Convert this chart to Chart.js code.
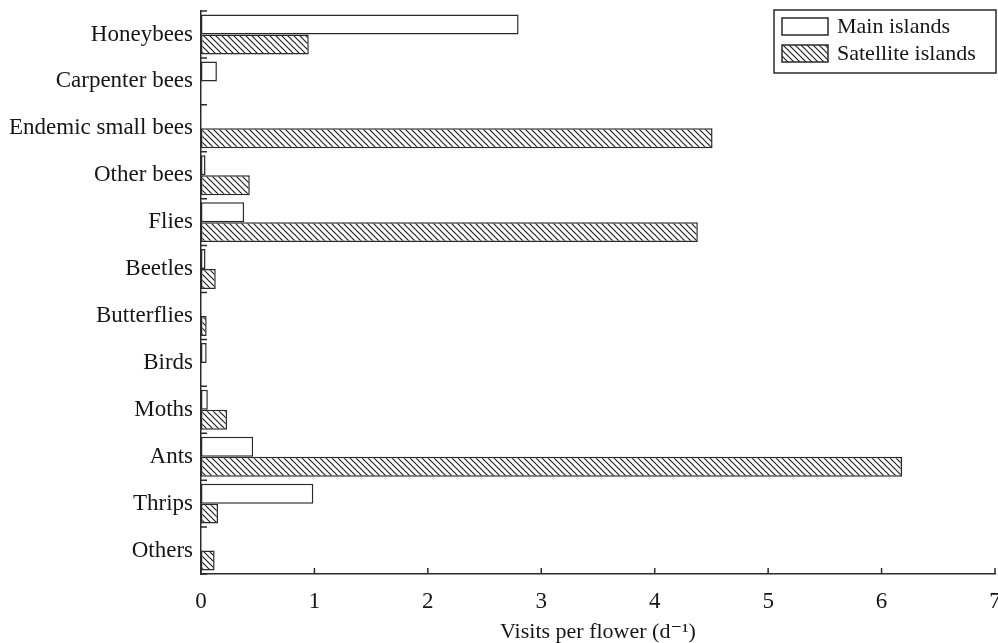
<!DOCTYPE html>
<html>
<head>
<meta charset="utf-8">
<script src="https://cdn.jsdelivr.net/npm/chart.js@4.4.1/dist/chart.umd.min.js"></script>
<style>
  body { margin: 0; background: #fff; }
</style>
</head>
<body>
<canvas id="myChart" width="998" height="643"></canvas>
<script>
// data
const categories = ["Honeybees", "Carpenter bees", "Endemic small bees", "Other bees", "Flies", "Beetles",
  "Butterflies", "Birds", "Moths", "Ants", "Thrips", "Others"];
const mainIslands = [2.80, 0.14, 0, 0.04, 0.38, 0.04, 0, 0.05, 0.06, 0.46, 0.99, 0];
const satelliteIslands = [0.95, 0, 4.51, 0.43, 4.38, 0.13, 0.05, 0, 0.23, 6.18, 0.15, 0.12];
const xTicks = [0, 1, 2, 3, 4, 5, 6, 7];
const seriesNames = ["Main islands", "Satellite islands"];

const ink = "#2a2a2a";
const textInk = "#161616";
const fontFamily = "'Liberation Serif', 'DejaVu Serif', serif";

// diagonal hatch
function makeHatch() {
  const s = 6;
  const c = document.createElement("canvas");
  c.width = s;
  c.height = s;
  const g = c.getContext("2d");
  g.fillStyle = "#fff";
  g.fillRect(0, 0, s, s);
  g.strokeStyle = "#222";
  g.lineWidth = 1.2;
  g.beginPath();
  g.moveTo(0, 0); g.lineTo(s, s);
  g.moveTo(-1, s - 1); g.lineTo(1, s + 1);
  g.moveTo(s - 1, -1); g.lineTo(s + 1, 1);
  g.stroke();
  const ctx = document.getElementById("myChart").getContext("2d");
  return ctx.createPattern(c, "repeat");
}
const hatch = makeHatch();

// ticks pointing into the plot
const innerTicks = {
  id: "innerTicks",
  afterDraw(chart) {
    const { ctx, chartArea, scales } = chart;
    ctx.save();
    ctx.strokeStyle = ink;
    ctx.lineWidth = 1.5;
    ctx.beginPath();
    xTicks.forEach((v) => {
      const px = scales.x.getPixelForValue(v);
      ctx.moveTo(px, chartArea.bottom);
      ctx.lineTo(px, chartArea.bottom - 6);
    });
    for (let i = 0; i <= categories.length; i++) {
      const py = scales.y.getPixelForValue(i - 0.5);
      ctx.moveTo(chartArea.left, py);
      ctx.lineTo(chartArea.left + 6, py);
    }
    ctx.stroke();
    ctx.restore();
  },
};

// boxed legend in the top right corner
const boxLegend = {
  id: "boxLegend",
  afterDraw(chart) {
    const { ctx, chartArea } = chart;
    const right = chartArea.right + 1;
    const left = right - 222;
    const top = chartArea.top - 1;
    ctx.save();
    ctx.strokeStyle = ink;
    ctx.lineWidth = 1.5;
    ctx.strokeRect(left, top, right - left, 63);
    ctx.font = "22px " + fontFamily;
    ctx.textBaseline = "middle";
    chart.data.datasets.forEach((ds, i) => {
      const y = top + 8 + i * 27;
      ctx.fillStyle = ds.backgroundColor;
      ctx.fillRect(left + 8, y, 46, 17);
      ctx.strokeRect(left + 8, y, 46, 17);
      ctx.fillStyle = textInk;
      ctx.fillText(ds.label, left + 63, y + 9);
    });
    ctx.restore();
  },
};

const ctx = document.getElementById("myChart").getContext("2d");
const myChart = new Chart(ctx, {
  type: "bar",
  data: {
    labels: categories,
    datasets: [
      {
        label: seriesNames[0],
        data: mainIslands,
        backgroundColor: "#ffffff",
        borderColor: ink,
        borderWidth: 1.5,
        borderSkipped: false,
      },
      {
        label: seriesNames[1],
        data: satelliteIslands,
        backgroundColor: hatch,
        borderColor: ink,
        borderWidth: 1.5,
        borderSkipped: false,
      },
    ],
  },
  options: {
    indexAxis: "y",
    responsive: false,
    animation: false,
    devicePixelRatio: 1,
    layout: { padding: { top: 11, right: 0, left: 0, bottom: 0 } },
    datasets: {
      bar: { categoryPercentage: 0.85, barPercentage: 1.0 },
    },
    plugins: {
      legend: { display: false },
      tooltip: { enabled: false },
    },
    scales: {
      x: {
        min: 0,
        max: 7,
        grid: { display: false, drawTicks: false },
        border: { color: ink, width: 1.5 },
        ticks: {
          stepSize: 1,
          padding: 14,
          color: textInk,
          font: { family: fontFamily, size: 23 },
        },
        title: {
          display: true,
          text: "Visits per flower (d\u207B\u00B9)",
          color: textInk,
          font: { family: fontFamily, size: 22, lineHeight: 1.0 },
          padding: { top: 4, bottom: 0 },
        },
        afterFit(scale) {
          scale.height = 69;
          scale.paddingRight = 3;
        },
      },
      y: {
        grid: { display: false, drawTicks: false },
        border: { color: ink, width: 1.5 },
        ticks: {
          padding: 8,
          color: textInk,
          font: { family: fontFamily, size: 23 },
        },
        afterFit(scale) {
          scale.width = 201;
          scale.paddingTop = 0;
          scale.paddingBottom = 0;
        },
      },
    },
  },
  plugins: [innerTicks, boxLegend],
});
</script>
</body>
</html>
